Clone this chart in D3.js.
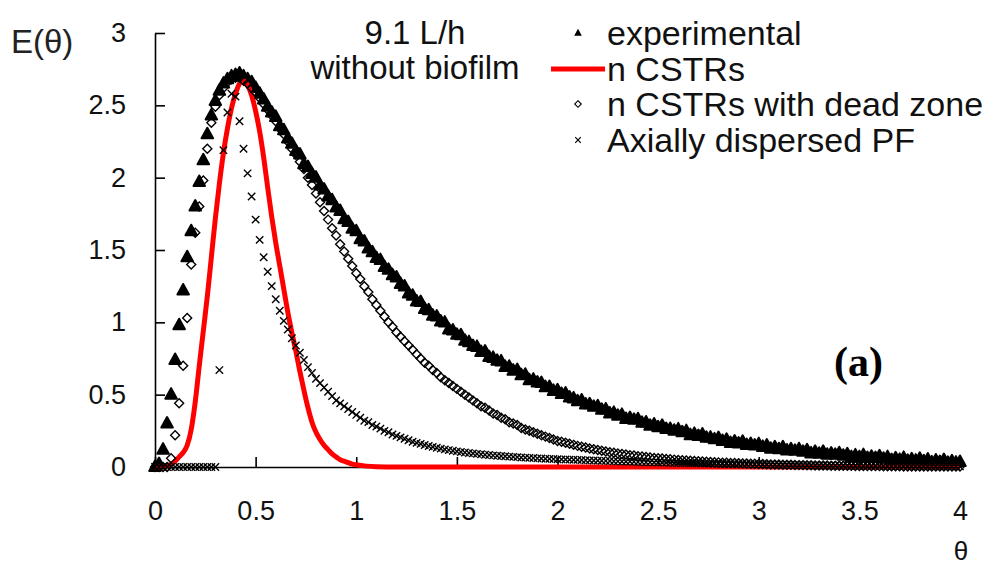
<!DOCTYPE html>
<html><head><meta charset="utf-8">
<script src="https://cdn.jsdelivr.net/npm/d3@7"></script>
<style>
body{margin:0;background:#fff;}
svg{display:block;}
</style>
</head><body><svg id="chart" width="986" height="566"></svg>
<script>
// ---------- data ----------
const thetaStep = 0.02; // sampling interval of the marker series (θ = index * step)
const experimental = [
  0, 0.02, 0.12, 0.30, 0.50, 0.74, 0.98, 1.22, 1.45, 1.63,
  1.80, 1.97, 2.12, 2.30, 2.43, 2.53, 2.60, 2.65, 2.68, 2.70,
  2.71, 2.72, 2.70, 2.68, 2.66, 2.62, 2.58, 2.54, 2.49, 2.45,
  2.42, 2.355, 2.328, 2.27, 2.234, 2.184, 2.16, 2.092, 2.073, 2.026,
  2.0, 1.945, 1.918, 1.87, 1.844, 1.794, 1.77, 1.712, 1.693, 1.646,
  1.63, 1.575, 1.558, 1.51, 1.484, 1.444, 1.43, 1.382, 1.363, 1.326,
  1.31, 1.265, 1.248, 1.20, 1.184, 1.144, 1.14, 1.092, 1.083, 1.046,
  1.04, 1.005, 0.998, 0.95, 0.944, 0.914, 0.91, 0.872, 0.863, 0.836,
  0.83, 0.795, 0.798, 0.76, 0.754, 0.734, 0.73, 0.692, 0.693, 0.666,
  0.67, 0.635, 0.638, 0.60, 0.604, 0.584, 0.58, 0.552, 0.553, 0.526,
  0.53, 0.505, 0.508, 0.48, 0.474, 0.454, 0.46, 0.432, 0.433, 0.416,
  0.42, 0.395, 0.398, 0.37, 0.374, 0.354, 0.36, 0.332, 0.338, 0.326,
  0.33, 0.305, 0.308, 0.285, 0.294, 0.274, 0.285, 0.262, 0.263, 0.251,
  0.26, 0.24, 0.248, 0.22, 0.229, 0.214, 0.225, 0.202, 0.203, 0.191,
  0.20, 0.18, 0.188, 0.165, 0.176, 0.162, 0.174, 0.152, 0.159, 0.148,
  0.158, 0.139, 0.148, 0.126, 0.136, 0.123, 0.136, 0.114, 0.122, 0.112,
  0.123, 0.105, 0.115, 0.094, 0.105, 0.092, 0.105, 0.085, 0.093, 0.084,
  0.095, 0.078, 0.088, 0.068, 0.08, 0.068, 0.082, 0.062, 0.071, 0.062,
  0.074, 0.057, 0.068, 0.048, 0.06, 0.049, 0.063, 0.043, 0.053, 0.044,
  0.057, 0.04, 0.052, 0.032, 0.045, 0.034, 0.048, 0.029, 0.039, 0.03,
  0.035
];
const deadZone = [
  0, 0, 0, 0, 0.06, 0.22, 0.44, 0.70, 1.03, 1.40,
  1.62, 1.80, 1.98, 2.20, 2.38, 2.49, 2.57, 2.62, 2.66, 2.68,
  2.69, 2.69, 2.67, 2.65, 2.62, 2.59, 2.55, 2.51, 2.47, 2.43,
  2.39, 2.34, 2.30, 2.25, 2.20, 2.16, 2.11, 2.06, 2.00, 1.95,
  1.89, 1.83, 1.77, 1.71, 1.65, 1.60, 1.54, 1.49, 1.44, 1.39,
  1.34, 1.30, 1.25, 1.21, 1.16, 1.12, 1.08, 1.04, 1.00, 0.97,
  0.93, 0.90, 0.87, 0.84, 0.81, 0.78, 0.75, 0.72, 0.70, 0.67,
  0.65, 0.62, 0.60, 0.58, 0.56, 0.54, 0.52, 0.50, 0.48, 0.46,
  0.44, 0.42, 0.41, 0.39, 0.37, 0.36, 0.34, 0.33, 0.31, 0.30,
  0.29, 0.27, 0.26, 0.25, 0.24, 0.23, 0.22, 0.21, 0.20, 0.19,
  0.18, 0.175, 0.168, 0.16, 0.153, 0.146, 0.14, 0.134, 0.128, 0.122,
  0.117, 0.112, 0.107, 0.102, 0.098, 0.094, 0.09, 0.086, 0.082, 0.079,
  0.075, 0.072, 0.069, 0.066, 0.063, 0.06, 0.058, 0.055, 0.053, 0.051,
  0.049, 0.047, 0.045, 0.043, 0.041, 0.039, 0.038, 0.036, 0.035, 0.033,
  0.032, 0.03, 0.029, 0.028, 0.027, 0.026, 0.025, 0.024, 0.023, 0.022,
  0.021, 0.02, 0.019, 0.018, 0.018, 0.017, 0.016, 0.015, 0.015, 0.014,
  0.013, 0.013, 0.012, 0.012, 0.011, 0.011, 0.01, 0.01, 0.009, 0.009,
  0.009, 0.008, 0.008, 0.008, 0.007, 0.007, 0.007, 0.006, 0.006, 0.006,
  0.006, 0.005, 0.005, 0.005, 0.005, 0.005, 0.004, 0.004, 0.004, 0.004,
  0.004, 0.004, 0.004, 0.003, 0.003, 0.003, 0.003, 0.003, 0.003, 0.003,
  0.003
];
const dispersedPF = [
  0, 0, 0, 0, 0, 0, 0, 0, 0, 0,
  0, 0, 0, 0, 0, 0, 0.67, 2.19, 2.45, 2.58,
  2.56, 2.39, 2.20, 2.03, 1.87, 1.71, 1.57, 1.45, 1.35, 1.25,
  1.16, 1.08, 1.01, 0.95, 0.89, 0.84, 0.79, 0.74, 0.69, 0.65,
  0.61, 0.58, 0.55, 0.52, 0.49, 0.46, 0.44, 0.42, 0.40, 0.38,
  0.36, 0.34, 0.32, 0.31, 0.29, 0.28, 0.265, 0.25, 0.24, 0.225,
  0.215, 0.205, 0.195, 0.185, 0.175, 0.167, 0.16, 0.152, 0.145, 0.139,
  0.133, 0.127, 0.122, 0.117, 0.112, 0.108, 0.104, 0.1, 0.097, 0.094,
  0.091, 0.088, 0.085, 0.083, 0.08, 0.078, 0.076, 0.074, 0.072, 0.07,
  0.068, 0.066, 0.065, 0.063, 0.062, 0.06, 0.059, 0.057, 0.056, 0.055,
  0.054, 0.053, 0.052, 0.051, 0.05, 0.049, 0.048, 0.047, 0.046, 0.045,
  0.044, 0.043, 0.042, 0.041, 0.04, 0.039, 0.038, 0.037, 0.037, 0.036,
  0.035, 0.034, 0.033, 0.033, 0.032, 0.031, 0.03, 0.03, 0.029, 0.028,
  0.028, 0.027, 0.026, 0.026, 0.025, 0.025, 0.024, 0.023, 0.023, 0.022,
  0.022, 0.021, 0.021, 0.02, 0.02, 0.019, 0.019, 0.018, 0.018, 0.017,
  0.017, 0.016, 0.016, 0.016, 0.015, 0.015, 0.014, 0.014, 0.014, 0.013,
  0.013, 0.013, 0.012, 0.012, 0.012, 0.011, 0.011, 0.011, 0.01, 0.01,
  0.01, 0.01, 0.009, 0.009, 0.009, 0.009, 0.008, 0.008, 0.008, 0.008,
  0.008, 0.007, 0.007, 0.007, 0.007, 0.007, 0.006, 0.006, 0.006, 0.006,
  0.006, 0.006, 0.005, 0.005, 0.005, 0.005, 0.005, 0.005, 0.005, 0.004,
  0.004
];
const cstrTheta = [0, 0.04, 0.06, 0.08, 0.10, 0.12, 0.14, 0.16, 0.18, 0.20, 0.22, 0.24, 0.26, 0.28, 0.30,
  0.32, 0.34, 0.36, 0.38, 0.40, 0.42, 0.44, 0.46, 0.48, 0.50, 0.52, 0.54, 0.56, 0.58, 0.60,
  0.62, 0.64, 0.66, 0.68, 0.70, 0.72, 0.74, 0.76, 0.78, 0.80, 0.82, 0.84, 0.86, 0.88, 0.90,
  0.92, 0.94, 0.96, 0.98, 1.00, 1.05, 1.10, 1.20, 4.00];
const cstrE = [0, 0, 0.01, 0.02, 0.04, 0.07, 0.10, 0.15, 0.26, 0.45, 0.70, 0.94, 1.18, 1.45, 1.72,
  1.96, 2.17, 2.34, 2.48, 2.58, 2.65, 2.67, 2.64, 2.57, 2.46, 2.32, 2.14, 1.93, 1.73, 1.55,
  1.39, 1.23, 1.07, 0.93, 0.80, 0.66, 0.53, 0.41, 0.31, 0.24, 0.19, 0.15, 0.12, 0.09, 0.07,
  0.05, 0.04, 0.03, 0.02, 0.015, 0.006, 0.002, 0, 0];
const xTicks = [0, 0.5, 1, 1.5, 2, 2.5, 3, 3.5, 4];
const xTickLabels = ["0", "0.5", "1", "1.5", "2", "2.5", "3", "3.5", "4"];
const yTicks = [0, 0.5, 1, 1.5, 2, 2.5, 3];
const yTickLabels = ["0", "0.5", "1", "1.5", "2", "2.5", "3"];
const legendLabels = ["experimental", "n CSTRs", "n CSTRs with dead zone", "Axially dispersed PF"];
const titleLines = ["9.1 L/h", "without biofilm"];

// ---------- drawing ----------
const SANS = '"Liberation Sans", Arial, sans-serif';
const SERIF = '"Liberation Serif", "Times New Roman", serif';
const svg = d3.select('#chart');
const x = d3.scaleLinear().domain([0, 4]).range([155, 960]);
const y = d3.scaleLinear().domain([0, 3]).range([467, 33]);

const toPts = arr => arr.map((v, i) => ({t: i * thetaStep, e: v}));

const triPath = s => `M0,${-s*0.62}L${s*0.55},${s*0.38}L${-s*0.55},${s*0.38}Z`;
const diaPath = s => `M0,${-s}L${s},0L0,${s}L${-s},0Z`;
const crossPath = s => `M${-s},${-s}L${s},${s}M${-s},${s}L${s},${-s}`;

// axes
const xAxis = svg.append('g').attr('transform', 'translate(0,467)')
  .call(d3.axisBottom(x).tickValues(xTicks).tickFormat((d, i) => xTickLabels[i])
    .tickSize(-10).tickSizeOuter(0).tickPadding(34));
const yAxis = svg.append('g').attr('transform', 'translate(155,0)')
  .call(d3.axisLeft(y).tickValues(yTicks).tickFormat((d, i) => yTickLabels[i])
    .tickSize(-10).tickSizeOuter(0).tickPadding(29));
[xAxis, yAxis].forEach(g => {
  g.select('.domain').attr('stroke', '#000').attr('stroke-width', 1.6);
  g.selectAll('.tick line').attr('stroke', '#000').attr('stroke-width', 1.6);
  g.selectAll('.tick text').attr('fill', '#111')
    .style('font-size', '27px').style('font-family', SANS);
});

// experimental triangles
svg.append('g').selectAll('path').data(toPts(experimental)).join('path')
  .attr('transform', d => `translate(${x(d.t)},${y(d.e)})`)
  .attr('d', triPath(10.5)).attr('fill', '#000')
  .attr('stroke', '#000').attr('stroke-width', 2).attr('stroke-linejoin', 'round');

// n CSTRs red line
const line = d3.line().x((d, i) => x(cstrTheta[i])).y(d => y(d)).curve(d3.curveMonotoneX);
svg.append('path').datum(cstrE).attr('d', line)
  .attr('fill', 'none').attr('stroke', '#ff0000').attr('stroke-width', 5).attr('stroke-linejoin', 'round');

// dead zone diamonds
svg.append('g').selectAll('path').data(toPts(deadZone)).join('path')
  .attr('transform', d => `translate(${x(d.t)},${y(d.e)})`)
  .attr('d', diaPath(4.5)).attr('fill', 'none').attr('stroke', '#000').attr('stroke-width', 1.4);

// axially dispersed PF crosses
svg.append('g').selectAll('path').data(toPts(dispersedPF)).join('path')
  .attr('transform', d => `translate(${x(d.t)},${y(d.e)})`)
  .attr('d', crossPath(3.7)).attr('fill', 'none').attr('stroke', '#000').attr('stroke-width', 1.4);

// text helper
const addText = (g, txt, xx, yy, size, opts = {}) => g.append('text')
  .attr('x', xx).attr('y', yy).attr('text-anchor', opts.anchor || 'start')
  .attr('fill', opts.fill || '#111')
  .style('font-family', opts.family || SANS).style('font-size', size + 'px')
  .style('font-weight', opts.weight || 'normal').text(txt);

// axis titles
addText(svg, 'E(θ)', 11, 53, 33, {fill: '#222'});
addText(svg, 'θ', 961, 560, 26, {anchor: 'middle'});

// title text
titleLines.forEach((t, i) => addText(svg, t, 415, 44 + i * 35, 33, {anchor: 'middle'}));

// legend
const legY = [33, 69, 104, 140];
const leg = svg.append('g');
legendLabels.forEach((t, i) => addText(leg, t, 607, legY[i] + 12, 34));
leg.append('path').attr('transform', `translate(578,${legY[0]})`).attr('d', triPath(7)).attr('fill', '#000');
leg.append('line').attr('x1', 551).attr('x2', 605).attr('y1', legY[1]).attr('y2', legY[1])
  .attr('stroke', '#ff0000').attr('stroke-width', 5);
leg.append('path').attr('transform', `translate(578,${legY[2]})`).attr('d', diaPath(3.3))
  .attr('fill', 'none').attr('stroke', '#000').attr('stroke-width', 1.1);
leg.append('path').attr('transform', `translate(578,${legY[3]})`).attr('d', crossPath(2.8))
  .attr('fill', 'none').attr('stroke', '#000').attr('stroke-width', 1.2);

// panel label
addText(svg, '(a)', 834, 376, 42, {family: SERIF, weight: 'bold', fill: '#000'});
</script></body></html>
